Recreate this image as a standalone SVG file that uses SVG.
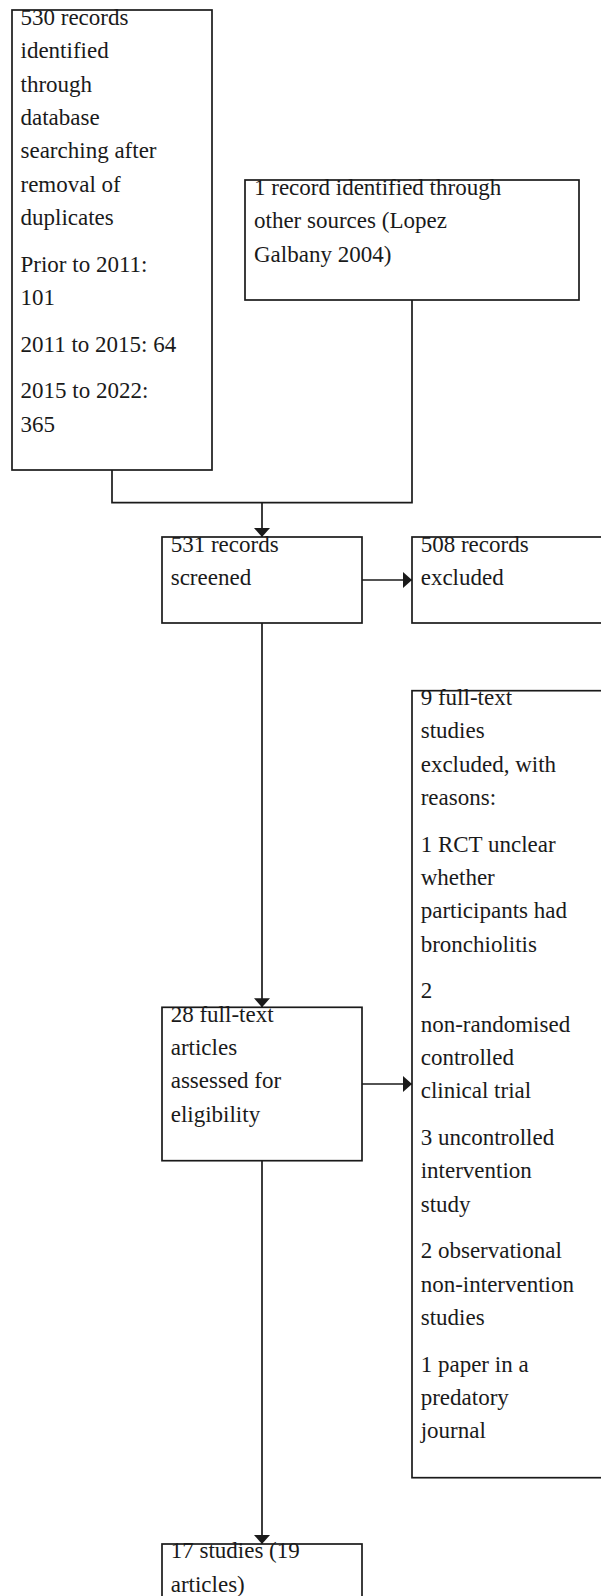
<svg xmlns="http://www.w3.org/2000/svg" width="601" height="1596" viewBox="0 0 601 1596">
<style>
.box{fill:#fff;stroke:#1a1a1a;stroke-width:1.7}
.t{font-family:"Liberation Serif","Times New Roman",serif;font-size:23px;fill:#1a1a1a}
.c{fill:none;stroke:#1a1a1a;stroke-width:1.7}
</style>
<defs>
<marker id="ah" viewBox="0 0 9 16" refX="9" refY="8" markerWidth="9" markerHeight="16" markerUnits="userSpaceOnUse" orient="auto">
<path d="M0,0 L9,8 L0,16 Z" fill="#1a1a1a"/>
</marker>
</defs>
<g id="connectors">
<polyline class="c" points="112,470 112,502.7 412,502.7 412,300"/>
<line class="c" x1="262" y1="502.7" x2="262" y2="537" marker-end="url(#ah)"/>
<line class="c" x1="362" y1="580" x2="412" y2="580" marker-end="url(#ah)"/>
<line class="c" x1="262" y1="623" x2="262" y2="1007.3" marker-end="url(#ah)"/>
<line class="c" x1="362" y1="1084" x2="412" y2="1084" marker-end="url(#ah)"/>
<line class="c" x1="262" y1="1160.7" x2="262" y2="1544" marker-end="url(#ah)"/>
</g>
<g id="n1">
<rect class="box" x="12" y="10" width="200" height="460"/>
<text class="t" x="20.5" y="25">530 records</text>
<text class="t" x="20.5" y="58.3">identified</text>
<text class="t" x="20.5" y="91.7">through</text>
<text class="t" x="20.5" y="125">database</text>
<text class="t" x="20.5" y="158.3">searching after</text>
<text class="t" x="20.5" y="191.7">removal of</text>
<text class="t" x="20.5" y="225">duplicates</text>
<text class="t" x="20.5" y="271.7">Prior to 2011:</text>
<text class="t" x="20.5" y="305">101</text>
<text class="t" x="20.5" y="351.7">2011 to 2015: 64</text>
<text class="t" x="20.5" y="398.3">2015 to 2022:</text>
<text class="t" x="20.5" y="431.7">365</text>
</g>
<g id="n2">
<rect class="box" x="245" y="180" width="334" height="120"/>
<text class="t" x="254" y="195">1 record identified through</text>
<text class="t" x="254" y="228.3">other sources (Lopez</text>
<text class="t" x="254" y="261.7">Galbany 2004)</text>
</g>
<g id="n3">
<rect class="box" x="162" y="537" width="200" height="86"/>
<text class="t" x="170.7" y="551.7">531 records</text>
<text class="t" x="170.7" y="585">screened</text>
</g>
<g id="n4">
<rect class="box" x="412" y="537" width="220" height="86"/>
<text class="t" x="420.7" y="551.7">508 records</text>
<text class="t" x="420.7" y="585">excluded</text>
</g>
<g id="n5">
<rect class="box" x="412" y="690.7" width="220" height="787"/>
<text class="t" x="420.7" y="705">9 full-text</text>
<text class="t" x="420.7" y="738.3">studies</text>
<text class="t" x="420.7" y="771.7">excluded, with</text>
<text class="t" x="420.7" y="805">reasons:</text>
<text class="t" x="420.7" y="851.7">1 RCT unclear</text>
<text class="t" x="420.7" y="885">whether</text>
<text class="t" x="420.7" y="918.3">participants had</text>
<text class="t" x="420.7" y="951.7">bronchiolitis</text>
<text class="t" x="420.7" y="998.3">2</text>
<text class="t" x="420.7" y="1031.7">non-randomised</text>
<text class="t" x="420.7" y="1065">controlled</text>
<text class="t" x="420.7" y="1098.3">clinical trial</text>
<text class="t" x="420.7" y="1145">3 uncontrolled</text>
<text class="t" x="420.7" y="1178.3">intervention</text>
<text class="t" x="420.7" y="1211.7">study</text>
<text class="t" x="420.7" y="1258.3">2 observational</text>
<text class="t" x="420.7" y="1291.7">non-intervention</text>
<text class="t" x="420.7" y="1325">studies</text>
<text class="t" x="420.7" y="1371.7">1 paper in a</text>
<text class="t" x="420.7" y="1405">predatory</text>
<text class="t" x="420.7" y="1438.3">journal</text>
</g>
<g id="n6">
<rect class="box" x="162" y="1007.3" width="200" height="153.4"/>
<text class="t" x="170.7" y="1021.7">28 full-text</text>
<text class="t" x="170.7" y="1055">articles</text>
<text class="t" x="170.7" y="1088.3">assessed for</text>
<text class="t" x="170.7" y="1121.7">eligibility</text>
</g>
<g id="n7">
<rect class="box" x="162" y="1544" width="200" height="80"/>
<text class="t" x="170.7" y="1558.3">17 studies (19</text>
<text class="t" x="170.7" y="1591.7">articles)</text>
</g>
</svg>
